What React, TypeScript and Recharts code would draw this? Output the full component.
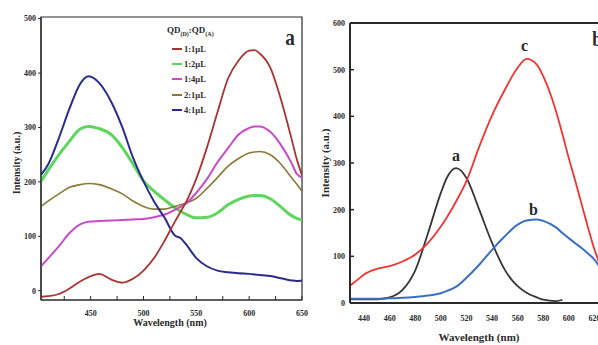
import React from "react";
import { LineChart, Line, XAxis, YAxis, ReferenceArea, ReferenceLine } from "recharts";

// panel a: QD(D):QD(A) ratios
const wlA = [403, 410, 420, 430, 440, 448, 458, 470, 480, 490, 500, 510, 520, 530, 535, 540, 550, 560, 570, 580, 590, 600, 605, 610, 620, 630, 640, 645, 650];
const a11 = [-11, -10, -6, 4, 17, 25, 31, 20, 15, 22, 37, 60, 92, 128, 145, 162, 206, 263, 328, 390, 423, 441, 442, 436, 410, 352, 280, 242, 212];
const a12 = [201, 222, 250, 275, 297, 302, 298, 286, 263, 233, 202, 183, 167, 152, 146, 141, 134, 135, 143, 158, 168, 174, 175, 175, 169, 154, 138, 133, 130];
const a14 = [45, 60, 82, 106, 122, 127, 128, 129, 130, 131, 132, 135, 140, 149, 154, 160, 180, 205, 236, 262, 287, 299, 302, 302, 292, 268, 235, 215, 208];
const a21 = [155, 165, 178, 190, 195, 197, 195, 187, 178, 165, 155, 150, 150, 155, 158, 161, 170, 188, 208, 229, 243, 253, 255, 256, 250, 233, 208, 196, 183];
const a41 = [213, 233, 281, 335, 380, 394, 382, 345, 300, 245, 201, 164, 134, 101, 97, 86, 60, 45, 37, 34, 32, 31, 30, 29, 27, 23, 19, 18, 19];
const xTicksA = [425, 450, 475, 500, 525, 550, 575, 600, 625, 650];
const yTicksA = [0, 100, 200, 300, 400, 500];

// panel b: a, b, c spectra
const wlB = [429, 435, 440, 450, 460, 470, 480, 490, 500, 505, 512, 520, 530, 540, 550, 560, 567, 575, 580, 590, 595, 600, 605, 610, 615, 620, 624];
const bA = [8, 8, 8, 8, 12, 28, 70, 150, 236, 270, 289, 268, 200, 129, 71, 36, 22, 12, 7, 4, 7, null, null, null, null, null, null];
const bB = [9, 9, 9, 9, 10, 11, 13, 16, 21, 26, 35, 54, 82, 114, 143, 168, 177, 179, 176, 162, 150, 139, 128, 118, 106, 93, 78];
const bC = [37, 50, 61, 73, 79, 89, 104, 129, 164, 185, 218, 261, 335, 402, 457, 504, 523, 511, 486, 411, 362, 310, 262, 212, 162, 115, 85];
const xTicksB = [440, 460, 480, 500, 520, 540, 560, 580, 600, 620];
const yTicksB = [0, 100, 200, 300, 400, 500, 600];

const seriesA = [
  { key: "s12", name: "1:2μL", color: "#5cd65c", width: 3, values: a12 },
  { key: "s21", name: "2:1μL", color: "#8c7838", width: 1.6, values: a21 },
  { key: "s14", name: "1:4μL", color: "#c84ac8", width: 2, values: a14 },
  { key: "s41", name: "4:1μL", color: "#2b2b8e", width: 2, values: a41 },
  { key: "s11", name: "1:1μL", color: "#a8332f", width: 1.8, values: a11 },
];
const legendOrder = ["s11", "s12", "s14", "s21", "s41"];

const seriesB = [
  { key: "a", color: "#353535", width: 1.8, values: bA },
  { key: "b", color: "#3a6fc2", width: 2, values: bB },
  { key: "c", color: "#f03434", width: 1.8, values: bC },
];

const rowsA = wlA.map((wl, i) => {
  const r: any = { wl };
  seriesA.forEach((s) => (r[s.key] = s.values[i]));
  return r;
});
const rowsB = wlB.map((wl, i) => {
  const r: any = { wl };
  seriesB.forEach((s) => (r[s.key] = s.values[i]));
  return r;
});

const FONT = '"Liberation Serif", "Times New Roman", serif';
const INK = "#2a2a2a";

const XTickA = (p: any) => (
  <g>
    <line x1={p.x} x2={p.x} y1={p.y} y2={p.y - 4} stroke={INK} strokeWidth={1} />
    {p.payload.value % 50 === 0 && (
      <text x={p.x} y={p.y + 16} textAnchor="middle" fontSize={8} fontWeight="bold" fill={INK} fontFamily={FONT}>
        {p.payload.value}
      </text>
    )}
  </g>
);

const XTickB = (p: any) => (
  <text x={p.x} y={p.y + 18} textAnchor="middle" fontSize={8} fontWeight="bold" fill={INK} fontFamily={FONT}>
    {p.payload.value}
  </text>
);

const YTickB = (p: any) => (
  <g>
    <line x1={p.x} x2={p.x + 4} y1={p.y} y2={p.y} stroke={INK} strokeWidth={1.5} />
    <text x={p.x - 5} y={p.y} dy={3} textAnchor="end" fontSize={8} fontWeight="bold" fill={INK} fontFamily={FONT}>
      {p.payload.value}
    </text>
  </g>
);

const abs = (left: number, top: number, extra: any = {}) => ({ position: "absolute" as const, left, top, ...extra });

export default function App() {
  return (
    <div style={{ position: "absolute", left: 0, top: 0, width: 598, height: 345, overflow: "hidden", background: "#fff", fontFamily: FONT, color: INK, fontWeight: "bold" }}>
      {/* panel a */}
      <div style={abs(0, 0)}>
        <LineChart width={310} height={345} data={rowsA} margin={{ top: 17, right: 8, left: 11, bottom: 25 }}>
          <XAxis dataKey="wl" type="number" domain={[403, 650]} ticks={xTicksA} interval={0} allowDataOverflow height={20} tickLine={false} tickSize={0} tickMargin={0} tick={XTickA} axisLine={{ stroke: INK, strokeWidth: 1.2 }} />
          <YAxis type="number" domain={[-17, 503]} ticks={yTicksA} interval={0} allowDataOverflow width={30} tickSize={3} tickMargin={2} tickLine={{ stroke: INK }} axisLine={{ stroke: INK, strokeWidth: 1.2 }} tick={{ fontSize: 8, fontWeight: "bold", fill: INK, fontFamily: FONT }} />
          <ReferenceArea x1={403} x2={650} y1={-17} y2={503} fill="none" stroke={INK} strokeWidth={1.2} ifOverflow="visible" />
          {seriesA.map((s) => (
            <Line key={s.key} dataKey={s.key} type="monotone" stroke={s.color} strokeWidth={s.width} dot={false} isAnimationActive={false} />
          ))}
        </LineChart>
      </div>

      {/* panel b */}
      <div style={abs(300, 0)}>
        <LineChart width={330} height={345} data={rowsB} margin={{ top: 23, right: 10, left: 10, bottom: 22 }}>
          <XAxis dataKey="wl" type="number" domain={[429, 640]} ticks={xTicksB} interval={0} allowDataOverflow height={20} tickLine={false} tickSize={0} tickMargin={0} tick={XTickB} axisLine={{ stroke: INK, strokeWidth: 2 }} />
          <YAxis type="number" domain={[0, 600]} ticks={yTicksB} interval={0} width={40} tickLine={false} tickSize={0} tickMargin={0} tick={YTickB} axisLine={{ stroke: INK, strokeWidth: 2 }} />
          <ReferenceLine y={600} stroke={INK} strokeWidth={2} ifOverflow="visible" />
          {seriesB.map((s) => (
            <Line key={s.key} dataKey={s.key} type="monotone" stroke={s.color} strokeWidth={s.width} dot={false} isAnimationActive={false} />
          ))}
        </LineChart>
      </div>

      {/* axis titles */}
      <div style={abs(16, 163, { transform: "translate(-50%,-50%) rotate(-90deg)", fontSize: 10, whiteSpace: "nowrap" })}>Intensity (a.u.)</div>
      <div style={abs(170, 322, { transform: "translate(-50%,-50%)", fontSize: 10, whiteSpace: "nowrap" })}>Wavelength (nm)</div>
      <div style={abs(325, 163, { transform: "translate(-50%,-50%) rotate(-90deg)", fontSize: 11, whiteSpace: "nowrap" })}>Intensity (a.u.)</div>
      <div style={abs(479, 337, { transform: "translate(-50%,-50%)", fontSize: 11, whiteSpace: "nowrap" })}>Wavelength (nm)</div>

      {/* legend a */}
      <div style={abs(167, 25, { fontSize: 9, whiteSpace: "nowrap" })}>
        QD<sub style={{ fontSize: 6 }}>(D)</sub>:QD<sub style={{ fontSize: 6 }}>(A)</sub>
      </div>
      {legendOrder.map((k, i) => {
        const s = seriesA.find((d) => d.key === k)!;
        return (
          <div key={k} style={abs(172, 43 + i * 15.2, { display: "flex", alignItems: "center", height: 12, fontSize: 8.5, whiteSpace: "nowrap" })}>
            <span style={{ display: "inline-block", width: 10, height: 2, background: s.color, marginRight: 2 }} />
            {s.name}
          </div>
        );
      })}

      {/* panel letters */}
      <div style={abs(284, 24, { fontSize: 24, transform: "scaleX(0.8)" })}>a</div>
      <div style={abs(591, 26, { fontSize: 22, transform: "scaleX(0.8)" })}>b</div>
      <div style={abs(521, 37, { fontSize: 16 })}>c</div>
      <div style={abs(452, 147, { fontSize: 16 })}>a</div>
      <div style={abs(529, 201, { fontSize: 16 })}>b</div>
    </div>
  );
}
